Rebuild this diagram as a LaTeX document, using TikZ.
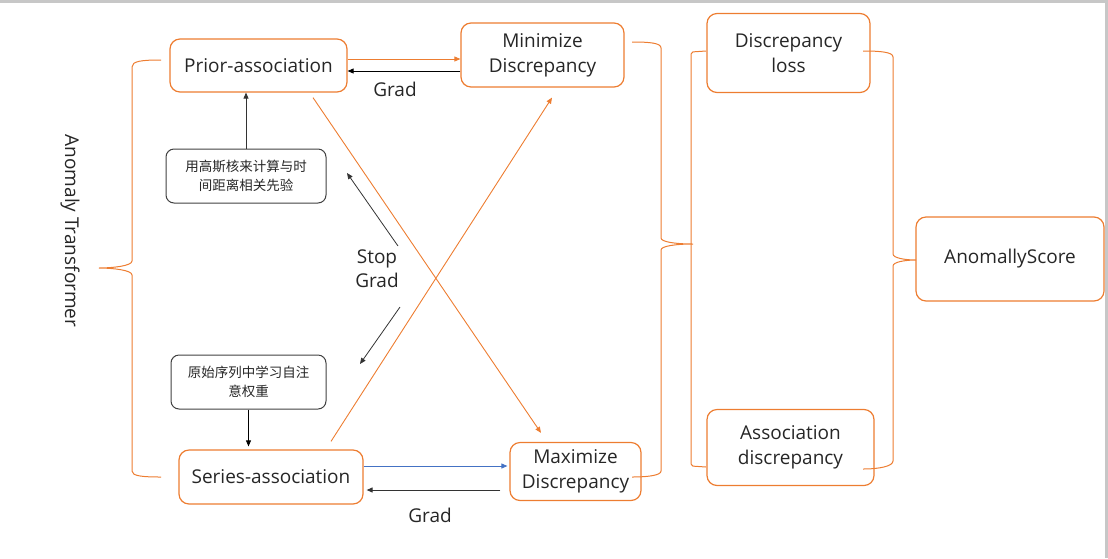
\documentclass[tikz,border=0pt]{standalone}
\usepackage{fontspec}
\setmainfont{Open Sans}
\newfontfamily\cjk{Noto Sans CJK SC}
\usetikzlibrary{arrows.meta}
\definecolor{orng}{RGB}{237,125,49}
\definecolor{blu}{RGB}{68,114,196}
\definecolor{txt}{RGB}{38,38,38}

\begin{document}
\begin{tikzpicture}[x=1pt,y=-1pt,
  box/.style={draw=orng,line width=1.2pt,rounded corners=10pt,align=center,text=txt,inner sep=0pt,font=\fontsize{19}{25}\selectfont},
  cnbox/.style={draw=black!75,line width=1pt,rounded corners=8pt,align=center,text=txt,inner sep=0pt,font=\cjk\fontsize{13.5}{19}\selectfont},
  lbl/.style={text=txt,align=center,font=\fontsize{19}{24}\selectfont},
  arr/.style={-{Triangle[length=6pt,width=5pt]},line width=0.8pt},
  brace/.style={orng,line width=1pt}]
\useasboundingbox (0,0) rectangle (1108,558);
\draw [black!22,line width=3pt] (0,1.5) -- (1106.5,1.5) -- (1106.5,558);

% boxes
\node [box,minimum width=177,minimum height=53] (prior) at (258.5,65.5) {Prior-association};
\node [box,minimum width=163,minimum height=64] (minim) at (542.5,55) {Minimize\\Discrepancy};
\node [cnbox,minimum width=160,minimum height=54] (gauss) at (246,176) {用高斯核来计算与时\\间距离相关先验};
\node [cnbox,minimum width=155,minimum height=54] (orig) at (248.5,382) {原始序列中学习自注\\意权重};
\node [box,minimum width=184,minimum height=54] (series) at (271,477) {Series-association};
\node [box,minimum width=131,minimum height=58] (maxim) at (575.5,471.5) {Maximize\\Discrepancy};
\node [box,minimum width=163,minimum height=79] (dloss) at (788.5,53) {Discrepancy\\loss};
\node [box,minimum width=167,minimum height=76] (adisc) at (790.5,447.5) {Association\\discrepancy};
\node [box,minimum width=188,minimum height=84] (score) at (1010,259) {AnomallyScore};
\node [lbl,rotate=-90] (anom) at (70,231) {Anomaly Transformer};

% arrows
\draw [arr,orng] ([yshift=6.5pt]prior.east) -- ([yshift=6.5pt]prior.east -| minim.west);
\draw [arr] ([yshift=-5.5pt]prior.east -| minim.west) -- ([yshift=-5.5pt]prior.east);
\node [lbl] (grad1) at (395,89) {Grad};
\draw [arr,black!80] (gauss.north) -- (prior.south -| gauss.north);
\draw [arr] (orig.south) -- ([yshift=3pt]series.north -| orig.south);
\draw [arr,orng,line width=0.9pt] ([shift={(54.5,5)}]prior.south) -- ([shift={(-34.5,-9)}]maxim.north);
\draw [arr,orng,line width=0.9pt] ([shift={(60,-8)}]series.north) -- ([shift={(9.5,10)}]minim.south);

\node [lbl] (stop) at (377,269) {Stop\\Grad};
\coordinate (s1) at (398,246);
\coordinate (s2) at (347,173);
\coordinate (s3) at (400,307);
\coordinate (s4) at (360,364);
\draw [arr,black!80] (s1) -- (s2);
\draw [arr,black!80] (s3) -- (s4);

\draw [arr,blu] ([yshift=11pt]series.east) -- ([yshift=11pt,xshift=-2pt]series.east -| maxim.west);
\draw [arr,black!80,line width=1pt] ([yshift=-13pt,xshift=-9pt]series.east -| maxim.west) -- ([yshift=-13pt,xshift=3pt]series.east);
\node [lbl] (grad2) at (430,515) {Grad};

% braces
\draw [brace] (161,60) .. controls (142,60) and (132,61) .. (132,67) -- (132,261)
  .. controls (132,266) and (112,268) .. (99,268) .. controls (112,268) and (132,270) .. (132,275)
  -- (132,471) .. controls (132,476) and (142,477) .. (161,477);
\draw [brace] (632,42) .. controls (650,42) and (661,43) .. (661,48) -- (661,238)
  .. controls (661,242) and (676,244) .. (693,244) .. controls (676,244) and (661,246) .. (661,250)
  -- (661,471) .. controls (661,475) and (650,477) .. (632,477);
\draw [brace,rounded corners=2pt] (706,51) -- (691,52) -- (691,466) -- (706,467);
\draw [brace] (863,51) .. controls (880,51) and (893,52) .. (893,57) -- (893,254)
  .. controls (893,258) and (905,260) .. (916,260) .. controls (905,260) and (893,262) .. (893,266)
  -- (893,461) .. controls (893,466) and (880,469) .. (863,469);
\end{tikzpicture}
\end{document}
